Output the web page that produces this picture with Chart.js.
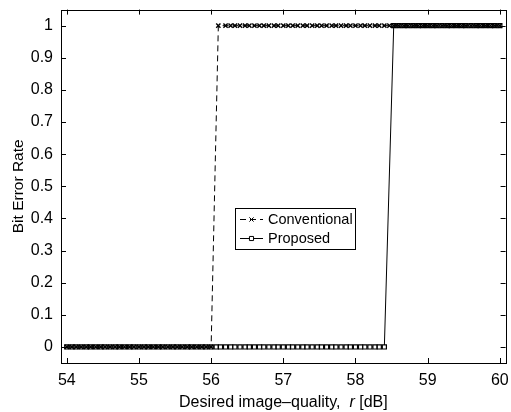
<!DOCTYPE html>
<html><head><meta charset="utf-8">
<script src="https://cdn.jsdelivr.net/npm/chart.js@4"></script>
<style>html,body{margin:0;padding:0;background:#fff}#wrap{width:511px;height:412px}</style>
</head><body><div id="wrap"><canvas id="c" width="511" height="412"></canvas></div>
<script>
const seriesNames = ["Conventional", "Proposed"];
const xTicks = [54, 55, 56, 57, 58, 59, 60];
const yTicks = [0, 0.1, 0.2, 0.3, 0.4, 0.5, 0.6, 0.7, 0.8, 0.9, 1];
const yTickLabels = ["0","0.1","0.2","0.3","0.4","0.5","0.6","0.7","0.8","0.9","1"];
const xTitle = ["Desired image\u2013quality,  ", "r", " [dB]"];
const yTitle = "Bit Error Rate";

const convX = [54.00,54.07,54.13,54.20,54.27,54.33,54.40,54.47,54.53,54.60,54.67,54.73,54.80,54.87,54.93,
 55.00,55.07,55.13,55.20,55.27,55.33,55.40,55.47,55.53,55.60,55.67,55.73,55.80,55.87,55.93,
 56.00,56.10,56.20,56.27,56.33,56.40,56.47,56.53,56.60,56.67,56.73,56.80,56.87,56.93,
 57.00,57.07,57.13,57.20,57.27,57.33,57.40,57.47,57.53,57.60,57.67,57.73,57.80,57.87,57.93,
 58.00,58.07,58.13,58.20,58.27,58.33,58.40,58.47,58.53,58.60,58.67,58.73,58.80,58.87,58.93,
 59.00,59.07,59.13,59.20,59.27,59.33,59.40,59.47,59.53,59.60,59.67,59.73,59.80,59.87,59.93,60.00];
const convY = [0,0,0,0,0,0,0,0,0,0,0,0,0,0,0,
 0,0,0,0,0,0,0,0,0,0,0,0,0,0,0,
 0,1,1,1,1,1,1,1,1,1,1,1,1,1,
 1,1,1,1,1,1,1,1,1,1,1,1,1,1,1,
 1,1,1,1,1,1,1,1,1,1,1,1,1,1,1,
 1,1,1,1,1,1,1,1,1,1,1,1,1,1,1,1];
const propX = [54.00,54.07,54.13,54.20,54.27,54.33,54.40,54.47,54.53,54.60,54.67,54.73,54.80,54.87,54.93,
 55.00,55.07,55.13,55.20,55.27,55.33,55.40,55.47,55.53,55.60,55.67,55.73,55.80,55.87,55.93,
 56.00,56.07,56.13,56.20,56.27,56.33,56.40,56.47,56.53,56.60,56.67,56.73,56.80,56.87,56.93,
 57.00,57.07,57.13,57.20,57.27,57.33,57.40,57.47,57.53,57.60,57.67,57.73,57.80,57.87,57.93,
 58.00,58.07,58.13,58.20,58.27,58.33,58.40,58.53,58.60,58.67,58.73,58.80,58.87,58.93,
 59.00,59.07,59.13,59.20,59.27,59.33,59.40,59.47,59.53,59.60,59.67,59.73,59.80,59.87,59.93,60.00];
const propY = [0,0,0,0,0,0,0,0,0,0,0,0,0,0,0,
 0,0,0,0,0,0,0,0,0,0,0,0,0,0,0,
 0,0,0,0,0,0,0,0,0,0,0,0,0,0,0,
 0,0,0,0,0,0,0,0,0,0,0,0,0,0,0,
 0,0,0,0,0,0,0,1,1,1,1,1,1,1,
 1,1,1,1,1,1,1,1,1,1,1,1,1,1,1,1];

const FONT = '"Liberation Sans", Arial, Helvetica, sans-serif';
const pts = (xs, ys) => xs.map((x, i) => ({x: x, y: ys[i]}));

const framePlugin = {
  id: 'frame',
  afterDatasetsDraw(chart) {
    const {ctx, chartArea: a, scales: {x, y}} = chart;
    ctx.save();
    ctx.strokeStyle = '#000';
    ctx.lineWidth = 1;
    ctx.strokeRect(Math.round(a.left) + 0.5, Math.round(a.top) + 0.5, Math.round(a.right - a.left), Math.round(a.bottom - a.top));
    ctx.beginPath();
    const tl = 5;
    xTicks.forEach(v => {
      const px = Math.round(x.getPixelForValue(v)) + 0.5;
      ctx.moveTo(px, a.bottom); ctx.lineTo(px, a.bottom - tl);
      ctx.moveTo(px, a.top); ctx.lineTo(px, a.top + tl);
    });
    yTicks.forEach(v => {
      const py = Math.round(y.getPixelForValue(v)) + 0.5;
      ctx.moveTo(a.left, py); ctx.lineTo(a.left + tl, py);
      ctx.moveTo(a.right, py); ctx.lineTo(a.right - tl, py);
    });
    ctx.stroke();

    // legend
    const lx = 235, ly = 208, lw = 120, lh = 41;
    ctx.fillStyle = '#fff';
    ctx.fillRect(lx, ly, lw, lh);
    ctx.strokeRect(lx + 0.5, ly + 0.5, lw, lh);
    ctx.font = '14.5px ' + FONT;
    ctx.textBaseline = 'middle';
    ctx.textAlign = 'left';
    chart.data.datasets.forEach((ds, i) => {
      const yy = ly + 11 + i * 19 + 0.5;
      ctx.beginPath();
      ctx.setLineDash(ds.borderDash || []);
      ctx.lineWidth = 1;
      ctx.moveTo(lx + 5, yy); ctx.lineTo(lx + 28, yy);
      ctx.stroke();
      ctx.setLineDash([]);
      ctx.fillStyle = ds.pointBackgroundColor;
      Chart.helpers.drawPoint(ctx, {pointStyle: ds.pointStyle, radius: ds.pointRadius, borderWidth: ds.pointBorderWidth, rotation: 0}, lx + 16.5, yy);
      ctx.fillStyle = '#000';
      ctx.fillText(ds.label, lx + 33, yy + 0.5);
    });

    // x title with italic r
    ctx.fillStyle = '#000';
    ctx.textBaseline = 'alphabetic';
    const fonts = ['16px ' + FONT, 'italic 16px ' + FONT, '16px ' + FONT];
    let total = 0;
    xTitle.forEach((s, i) => { ctx.font = fonts[i]; total += ctx.measureText(s).width; });
    let cx = (a.left + a.right) / 2 - total / 2;
    xTitle.forEach((s, i) => { ctx.font = fonts[i]; ctx.fillText(s, cx, 407); cx += ctx.measureText(s).width; });
    ctx.restore();
  }
};

new Chart(document.getElementById('c'), {
  type: 'line',
  data: {
    datasets: [
      {label: seriesNames[0], data: pts(convX, convY), borderColor: '#000', borderWidth: 1, borderDash: [6, 4],
       pointStyle: 'crossRot', pointRadius: 3, pointBorderColor: '#000', pointBackgroundColor: '#000', pointBorderWidth: 1.4, fill: false, tension: 0},
      {label: seriesNames[1], data: pts(propX, propY), borderColor: '#000', borderWidth: 1,
       pointStyle: 'rect', pointRadius: 2.9, pointBorderColor: '#000', pointBackgroundColor: '#fff', pointBorderWidth: 1.2, fill: false, tension: 0}
    ]
  },
  options: {
    responsive: false, animation: false, devicePixelRatio: 1,
    layout: {padding: {top: 8, right: 3, left: 0, bottom: 0}},
    plugins: {legend: {display: false}, tooltip: {enabled: false}},
    scales: {
      x: {type: 'linear', min: 53.92, max: 60.08,
        afterBuildTicks: s => { s.ticks = xTicks.map(v => ({value: v})); },
        afterFit: s => { s.height = 49; },
        grid: {display: false}, border: {display: false},
        ticks: {color: '#000', font: {family: FONT, size: 16}, padding: 0, maxRotation: 0, autoSkip: false,
          callback: v => String(v)}
      },
      y: {type: 'linear', min: -0.05, max: 1.05,
        afterBuildTicks: s => { s.ticks = yTicks.map(v => ({value: v})); },
        afterFit: s => { s.width = 61; },
        grid: {display: false}, border: {display: false},
        title: {display: true, text: yTitle, color: '#000', font: {family: FONT, size: 15.5}, padding: {top: 9, bottom: 2}},
        ticks: {color: '#000', font: {family: FONT, size: 16}, padding: 0, autoSkip: false,
          callback: (v) => { const i = yTicks.findIndex(t => Math.abs(t - v) < 1e-9); return i >= 0 ? yTickLabels[i] : ''; }}
      }
    }
  },
  plugins: [framePlugin]
});
</script></body></html>
